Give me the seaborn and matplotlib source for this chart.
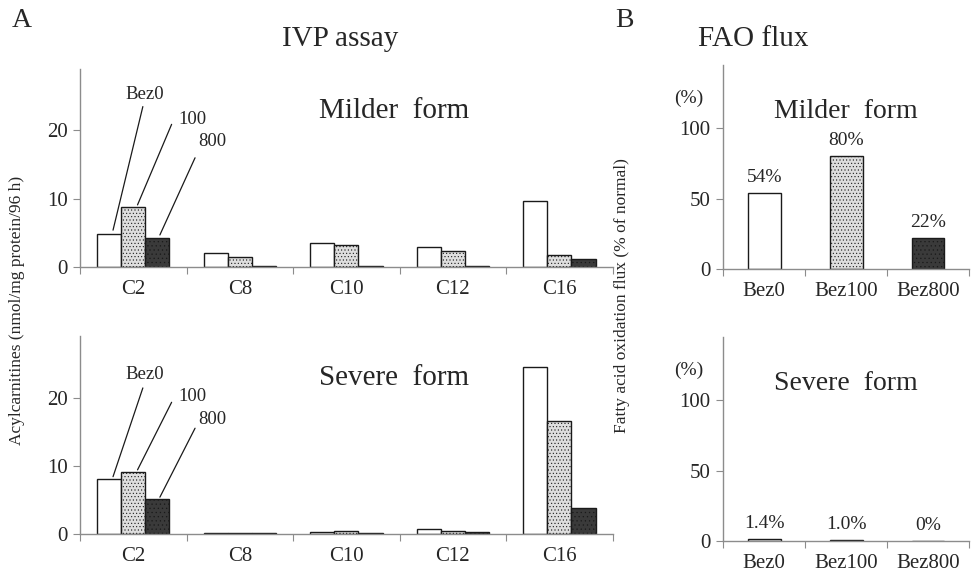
import numpy as np
import pandas as pd
import seaborn as sns
import matplotlib.pyplot as plt
from matplotlib.ticker import FixedLocator

sns.set_style('white')
plt.rcParams['font.family'] = ['Liberation Serif', 'DejaVu Serif']
plt.rcParams['hatch.linewidth'] = 0.4

# IVP assay, acylcarnitines (nmol/mg protein/96 h)
chains = ['C2', 'C8', 'C10', 'C12', 'C16']
doses = ['Bez0', '100', '800']
mild_bez0 = [4.9, 2.1, 3.5, 3.0, 9.6]
mild_bez100 = [8.8, 1.4, 3.2, 2.4, 1.8]
mild_bez800 = [4.3, 0.2, 0.2, 0.2, 1.2]
sev_bez0 = [8.1, 0.2, 0.3, 0.8, 24.5]
sev_bez100 = [9.1, 0.1, 0.4, 0.4, 16.5]
sev_bez800 = [5.1, 0.1, 0.2, 0.3, 3.8]

# FAO flux (% of normal)
fao_groups = ['Bez0', 'Bez100', 'Bez800']
fao_mild = [54, 80, 22]
fao_sev = [1.4, 1.0, 0.0]
fao_mild_lbl = ['54%', '80%', '22%']
fao_sev_lbl = ['1.4%', '1.0%', '0%']

colors = ['white', '#dedede', '#3a3a3a']
hatches = [None, '.....', '....']
spine_c = '#8c8c8c'


def long_df(a, b, c):
    rows = []
    for vals, d in zip([a, b, c], doses):
        for ch, v in zip(chains, vals):
            rows.append({'chain': ch, 'dose': d, 'value': v})
    return pd.DataFrame(rows)


def style_axes(ax, ncat):
    sns.despine(ax=ax)
    for s in ['left', 'bottom']:
        ax.spines[s].set_color(spine_c)
        ax.spines[s].set_linewidth(1.0)
    ax.set_xlim(-0.5, ncat - 0.5)
    ax.xaxis.set_major_locator(FixedLocator(np.arange(ncat + 1) - 0.5))
    ax.set_xticklabels([''] * (ncat + 1))
    ax.tick_params(axis='x', which='major', direction='out', length=5,
                   color=spine_c, bottom=True)
    ax.tick_params(axis='y', direction='out', length=5, color=spine_c,
                   left=True, labelsize=15, pad=4)
    ax.set_xlabel('')
    ax.set_ylabel('')


def paint(ax):
    for i, cont in enumerate(ax.containers):
        for p in cont:
            p.set_facecolor(colors[i])
            p.set_edgecolor('#1a1a1a')
            p.set_linewidth(1.0)
            if hatches[i]:
                p.set_hatch(hatches[i])


fig = plt.figure(figsize=(9.72, 5.73), dpi=100)
ax1 = fig.add_axes([0.0823, 0.534, 0.548, 0.3455])
ax2 = fig.add_axes([0.0823, 0.068, 0.548, 0.3455])
ax3 = fig.add_axes([0.744, 0.5305, 0.253, 0.356])
ax4 = fig.add_axes([0.744, 0.0558, 0.253, 0.356])

leaders = [
    # (text, text xy, line start, line end) for top panel
    ('Bez0', (0.11, 25.3), (0.09, 23.5), (-0.19, 5.4)),
    ('100', (0.56, 21.6), (0.36, 20.9), (0.04, 9.1)),
    ('800', (0.74, 18.4), (0.58, 16.0), (0.25, 4.7)),
]
leaders_sev = [
    ('Bez0', (0.11, 23.4), (0.09, 21.4), (-0.19, 8.4)),
    ('100', (0.56, 20.1), (0.36, 19.3), (0.04, 9.4)),
    ('800', (0.74, 16.8), (0.58, 15.5), (0.25, 5.4)),
]

for ax, data, title, lead in [
        (ax1, (mild_bez0, mild_bez100, mild_bez800), 'Milder  form', leaders),
        (ax2, (sev_bez0, sev_bez100, sev_bez800), 'Severe  form', leaders_sev)]:
    df = long_df(*data)
    sns.barplot(data=df, x='chain', y='value', hue='dose', order=chains,
                hue_order=doses, width=0.68, ax=ax, legend=False,
                palette=colors, edgecolor='#1a1a1a', linewidth=1.0)
    paint(ax)
    style_axes(ax, len(chains))
    ax.set_ylim(0, 29)
    ax.set_yticks([0, 10, 20])
    ax.set_xticks(np.arange(len(chains)), minor=True)
    ax.set_xticklabels(chains, minor=True)
    ax.tick_params(axis='x', which='minor', length=0, labelsize=15, pad=9)
    ax.text(0.59, 0.79, title, transform=ax.transAxes, ha='center',
            va='center', fontsize=21)
    for lbl, txy, p0, p1 in lead:
        ax.text(txy[0], txy[1], lbl, ha='center', va='center', fontsize=13.5)
        ax.plot([p0[0], p1[0]], [p0[1], p1[1]], color='#1a1a1a', lw=0.9)

for ax, vals, lbls, title in [(ax3, fao_mild, fao_mild_lbl, 'Milder  form'),
                              (ax4, fao_sev, fao_sev_lbl, 'Severe  form')]:
    fdf = pd.DataFrame({'group': fao_groups, 'flux': vals})
    sns.barplot(data=fdf, x='group', y='flux', hue='group', order=fao_groups,
                hue_order=fao_groups, width=0.4, ax=ax, legend=False,
                palette=colors, edgecolor='#1a1a1a', linewidth=1.0)
    paint(ax)
    style_axes(ax, len(fao_groups))
    ax.set_ylim(0, 145)
    ax.set_yticks([0, 50, 100])
    ax.set_xticks(np.arange(len(fao_groups)), minor=True)
    ax.set_xticklabels(fao_groups, minor=True)
    ax.tick_params(axis='x', which='minor', length=0, labelsize=15, pad=9)
    for i, (v, l) in enumerate(zip(vals, lbls)):
        ax.text(i, v + 5, l, ha='center', va='bottom', fontsize=14)
    ax.text(0.5, 0.77, title, transform=ax.transAxes, ha='center',
            va='center', fontsize=20)
    ax.annotate('(%)', xy=(-0.14, 121), xycoords=('axes fraction', 'data'),
                ha='center', va='center', fontsize=14)

fig.text(0.018, 0.459, 'Acylcarnitines (nmol/mg protein/96 h)', rotation=90,
         ha='center', va='center', fontsize=12.5)
fig.text(0.640, 0.485, 'Fatty acid oxidation flux (% of normal)', rotation=90,
         ha='center', va='center', fontsize=12.5)
fig.text(0.012, 0.965, 'A', fontsize=20, ha='left', va='center')
fig.text(0.350, 0.932, 'IVP assay', fontsize=21, ha='center', va='center')
fig.text(0.633, 0.965, 'B', fontsize=20, ha='left', va='center')
fig.text(0.775, 0.932, 'FAO flux', fontsize=21, ha='center', va='center')

fig.savefig('out.png', dpi=100)
